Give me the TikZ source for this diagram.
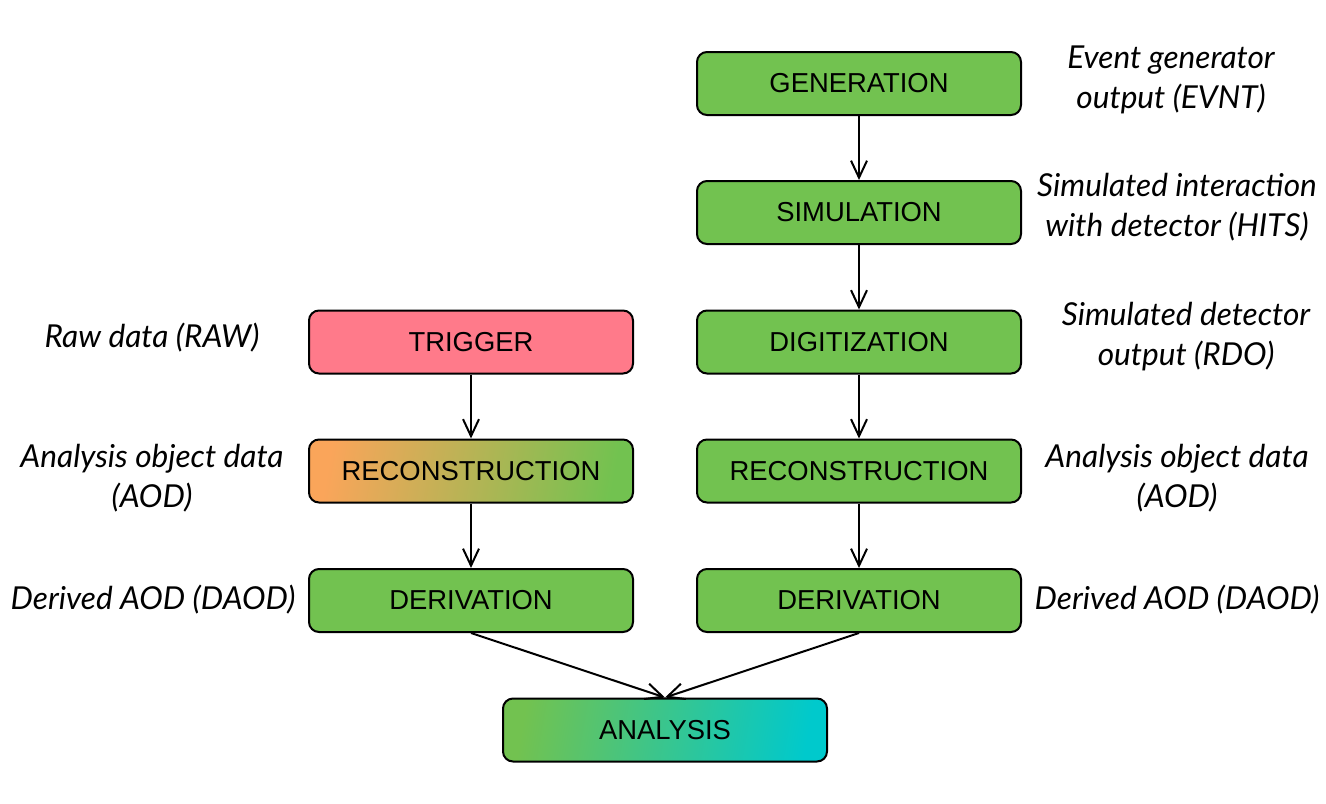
\documentclass[tikz,border=0pt]{standalone}
\usepackage{fontspec}
\setmainfont{Liberation Sans}
\newfontfamily\notefont{Lato}
\usepackage{xcolor}
\usetikzlibrary{arrows.meta}

\definecolor{stepgreen}{RGB}{114,194,80}
\definecolor{triggerpink}{RGB}{255,122,138}
\definecolor{recoorange}{RGB}{250,165,90}
\definecolor{anateal}{RGB}{20,196,150}
\definecolor{anacyan}{RGB}{0,201,204}

\begin{document}
\begin{tikzpicture}[x=0.5pt, y=-0.5pt,
        box/.style={draw, line width=1pt, rounded corners=5pt, minimum width=162pt,
            minimum height=31.5pt, fill=stepgreen, font=\fontsize{13.7}{16}\selectfont},
        note/.style={align=center, font=\notefont\itshape\fontsize{15.8}{20}\selectfont},
        >={Straight Barb[length=8.5pt, width=8pt]}]
            \useasboundingbox (0, 0) rectangle (1326, 803);

            \node[box] (gen) at (859, 83.5) {GENERATION};
            \node[box] (sim) at (859, 212.5) {SIMULATION};
            \node[box] (digi) at (859, 342) {DIGITIZATION};
            \node[box] (recoR) at (859, 471) {RECONSTRUCTION};
            \node[box] (derivR) at (859, 600.5) {DERIVATION};

            \node[box, fill=triggerpink] (trig) at (471, 342) {TRIGGER};
            \node[box, left color=recoorange, right color=stepgreen, shading angle=80] (recoL) at (471, 471) {RECONSTRUCTION};
            \node[box] (derivL) at (471, 600.5) {DERIVATION};

            \node[box, left color=stepgreen, middle color=anateal, right color=anacyan, shading angle=80] (ana) at (665, 730) {ANALYSIS};

            \node[note] (evnt) at (1171, 80) {Event generator\\output (EVNT)};
            \node[note] (hits) at (1177, 207) {Simulated interaction\\with detector (HITS)};
            \node[note] (rdo) at (1186, 337) {Simulated detector\\output (RDO)};
            \node[note] (aodR) at (1177, 478) {Analysis object data\\(AOD)};
            \node[note] (daodR) at (1177, 600) {Derived AOD (DAOD)};

            \node[note] (raw) at (152, 338) {Raw data (RAW)};
            \node[note] (aodL) at (152, 478) {Analysis object data\\(AOD)};
            \node[note] (daodL) at (153, 600) {Derived AOD (DAOD)};

            \draw[->, line width=1pt] (gen) -- (sim);
            \draw[->, line width=1pt] (sim) -- (digi);
            \draw[->, line width=1pt] (digi) -- (recoR);
            \draw[->, line width=1pt] (recoR) -- (derivR);
            \draw[->, line width=1pt] (trig) -- (recoL);
            \draw[->, line width=1pt] (recoL) -- (derivL);
            \draw[->, line width=1pt] (derivL.south) -- (ana.north);
            \draw[->, line width=1pt] (derivR.south) -- (ana.north);
        \end{tikzpicture}
\end{document}
